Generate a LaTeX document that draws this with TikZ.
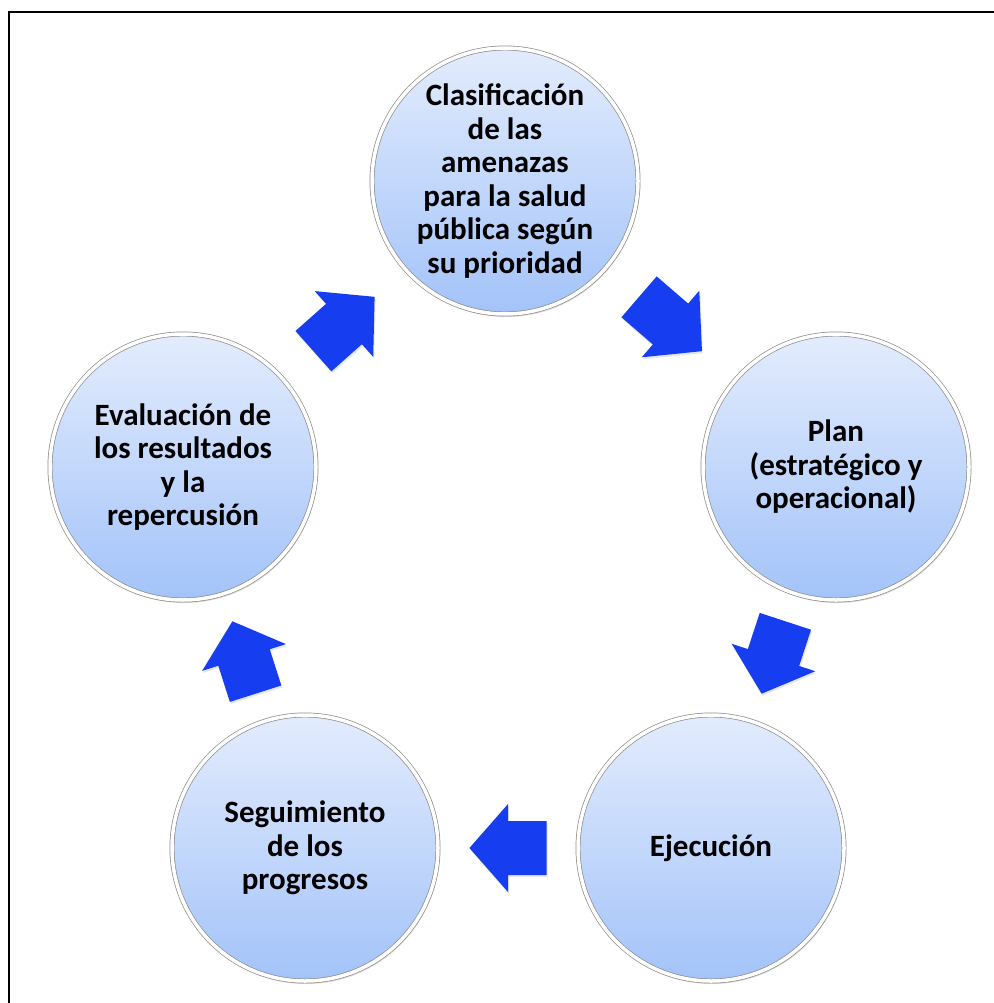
\documentclass[tikz,border=0pt]{standalone}
\usepackage{fontspec}
\setmainfont{Carlito}
\usetikzlibrary{calc,shadows}
\definecolor{azulflecha}{RGB}{22,62,240}
\definecolor{circarriba}{RGB}{227,236,253}
\definecolor{circabajo}{RGB}{163,195,249}
\newcommand{\blockarrow}[2]{%
  \coordinate (t) at ($(#1)!0.405!(#2)$);
  \coordinate (h) at ($(#1)!0.5!(#2)$);
  \coordinate (p) at ($(#1)!0.595!(#2)$);
  \fill[flecha] ($(t)!27pt!90:(#2)$) -- ($(h)!27pt!90:(#2)$) -- ($(h)!44pt!90:(#2)$) -- (p)
    -- ($(h)!44pt!-90:(#2)$) -- ($(h)!27pt!-90:(#2)$) -- ($(t)!27pt!-90:(#2)$) -- cycle;
}
\begin{document}
\begin{tikzpicture}[x=1pt,y=-1pt,
  etapa/.style={circle, minimum size=266pt, inner sep=0pt, align=center,
    top color=circarriba, bottom color=circabajo,
    draw=black!45, line width=0.7pt, double=white, double distance=3.5pt,
    drop shadow={opacity=0.25, shadow xshift=1.5pt, shadow yshift=-3pt},
    font=\fontsize{31}{33.5}\selectfont\bfseries},
  flecha/.style={fill=azulflecha,
    drop shadow={opacity=0.2, shadow xshift=1pt, shadow yshift=-2pt}}]
\useasboundingbox (0,0) rectangle (993,1003);
\draw[line width=1.5pt] (9,1010) -- (9,12) -- (1000,12);
\node[etapa] (clasif) at (505,181) {Clasificación\\de las\\amenazas\\para la salud\\pública según\\su prioridad};
\node[etapa] (plan) at (836,467) {Plan\\(estratégico y\\operacional)};
\node[etapa] (ejec) at (711,848) {Ejecución};
\node[etapa] (segui) at (305,848) {Seguimiento\\de los\\progresos};
\node[etapa] (evalua) at (183,467) {Evaluación de\\los resultados\\y la\\repercusión};
\blockarrow{clasif}{plan}
\blockarrow{plan}{ejec}
\blockarrow{ejec}{segui}
\blockarrow{segui}{evalua}
\blockarrow{evalua}{clasif}
\end{tikzpicture}
\end{document}
